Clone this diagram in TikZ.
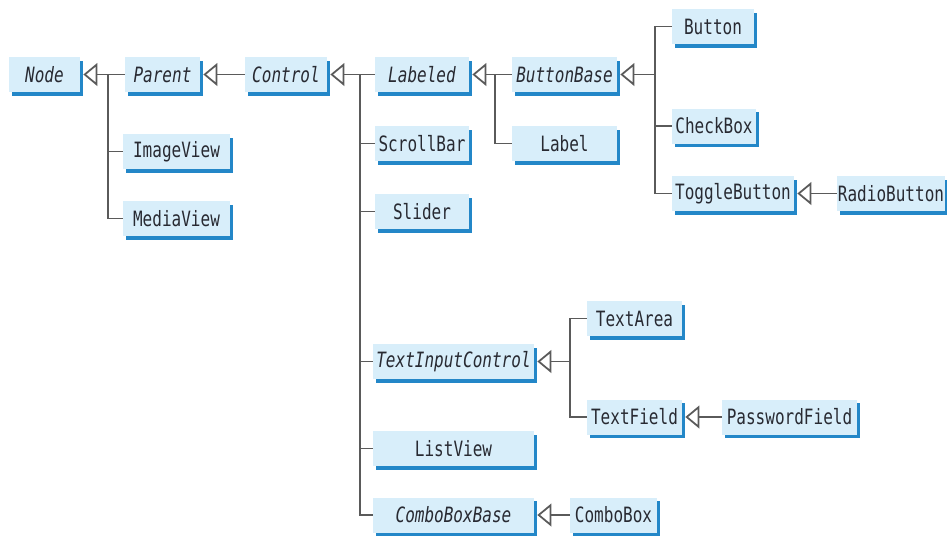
\documentclass[tikz,border=0pt]{standalone}
\usepackage{fontspec}
\usepackage{xcolor}
\usepackage{tikz}
\usetikzlibrary{arrows.meta}
\usetikzlibrary{shadows}
\newfontfamily\clsfont[FakeStretch=0.76]{DejaVu Sans Mono}
\definecolor{boxfill}{RGB}{216,238,250}
\definecolor{boxshade}{RGB}{35,135,200}
\definecolor{linegray}{RGB}{90,90,90}
\definecolor{textgray}{RGB}{40,42,50}
\tikzset{
    cls/.style={fill=boxfill, minimum height=0.7cm, inner sep=0pt, text=textgray,
        font=\clsfont\fontsize{12}{14}\selectfont,
        drop shadow={shadow xshift=0.06cm, shadow yshift=-0.07cm, fill=boxshade, opacity=1}},
    abscls/.style={cls, font=\clsfont\fontsize{12}{14}\selectfont\itshape},
    link/.style={draw=linegray, line width=1pt},
    inh/.style={link, -{Triangle[open, fill=white, length=8pt, width=13pt]}, shorten >=0.06cm},
}

\begin{document}
\begin{tikzpicture}[x=0.02cm, y=-0.02cm]
    \useasboundingbox (0,0) rectangle (947,535);

    \node[abscls, minimum width=1.42cm] (Node) at (44.5,74.5) {Node};
    \node[abscls, minimum width=1.50cm] (Parent) at (162.5,74.5) {Parent};
    \node[abscls, minimum width=1.64cm] (Control) at (286,74.5) {Control};
    \node[abscls, minimum width=1.88cm] (Labeled) at (422,74.5) {Labeled};
    \node[abscls, minimum width=2.10cm] (ButtonBase) at (564.5,74.5) {ButtonBase};
    \node[cls, minimum width=2.10cm] (Label) at (564.5,143.5) {Label};
    \node[cls, minimum width=1.88cm] (ScrollBar) at (422,143.5) {ScrollBar};
    \node[cls, minimum width=1.88cm] (Slider) at (422,211.5) {Slider};
    \node[cls, minimum width=2.14cm] (ImageView) at (176.5,151.5) {ImageView};
    \node[cls, minimum width=2.14cm] (MediaView) at (176.5,218.5) {MediaView};
    \node[cls, minimum width=1.64cm] (Button) at (713,26.5) {Button};
    \node[cls, minimum width=1.68cm] (CheckBox) at (714,126) {CheckBox};
    \node[cls, minimum width=2.44cm] (ToggleButton) at (733,193.5) {ToggleButton};
    \node[cls, minimum width=2.16cm] (RadioButton) at (891,193.5) {RadioButton};
    \node[abscls, minimum width=3.22cm] (TextInputControl) at (453.5,361.5) {TextInputControl};
    \node[cls, minimum width=1.90cm] (TextArea) at (634.5,318.5) {TextArea};
    \node[cls, minimum width=1.90cm] (TextField) at (634.5,417) {TextField};
    \node[cls, minimum width=2.70cm] (PasswordField) at (789.5,417) {PasswordField};
    \node[cls, minimum width=3.22cm] (ListView) at (453.5,448.5) {ListView};
    \node[abscls, minimum width=3.22cm] (ComboBoxBase) at (453.5,515) {ComboBoxBase};
    \node[cls, minimum width=1.74cm] (ComboBox) at (613.5,515) {ComboBox};

    \coordinate (nodeJ) at (108,74.5);
    \coordinate (ctrlJ) at (360,74.5);
    \coordinate (lblJ) at (495,74.5);
    \coordinate (bbJ) at (655,74.5);
    \coordinate (ticJ) at (570,361.5);

    \draw[inh] (Parent) -- (Node);
    \draw[link] (ImageView) -| (nodeJ);
    \draw[link] (MediaView) -| (nodeJ);

    \draw[inh] (Control) -- (Parent);

    \draw[inh] (Labeled) -- (Control);
    \draw[link] (ScrollBar) -| (ctrlJ);
    \draw[link] (Slider) -| (ctrlJ);
    \draw[link] (TextInputControl) -| (ctrlJ);
    \draw[link] (ListView) -| (ctrlJ);
    \draw[link] (ComboBoxBase) -| (ctrlJ);

    \draw[inh] (ButtonBase) -- (Labeled);
    \draw[link] (Label) -| (lblJ);

    \draw[inh] (bbJ) -- (ButtonBase);
    \draw[link] (Button) -| (bbJ);
    \draw[link] (CheckBox) -| (bbJ);
    \draw[link] (ToggleButton) -| (bbJ);
    \draw[inh] (RadioButton) -- (ToggleButton);

    \draw[inh] (ticJ) -- (TextInputControl);
    \draw[link] (TextArea) -| (ticJ);
    \draw[link] (TextField) -| (ticJ);
    \draw[inh] (PasswordField) -- (TextField);

    \draw[inh] (ComboBox) -- (ComboBoxBase);
\end{tikzpicture}
\end{document}
